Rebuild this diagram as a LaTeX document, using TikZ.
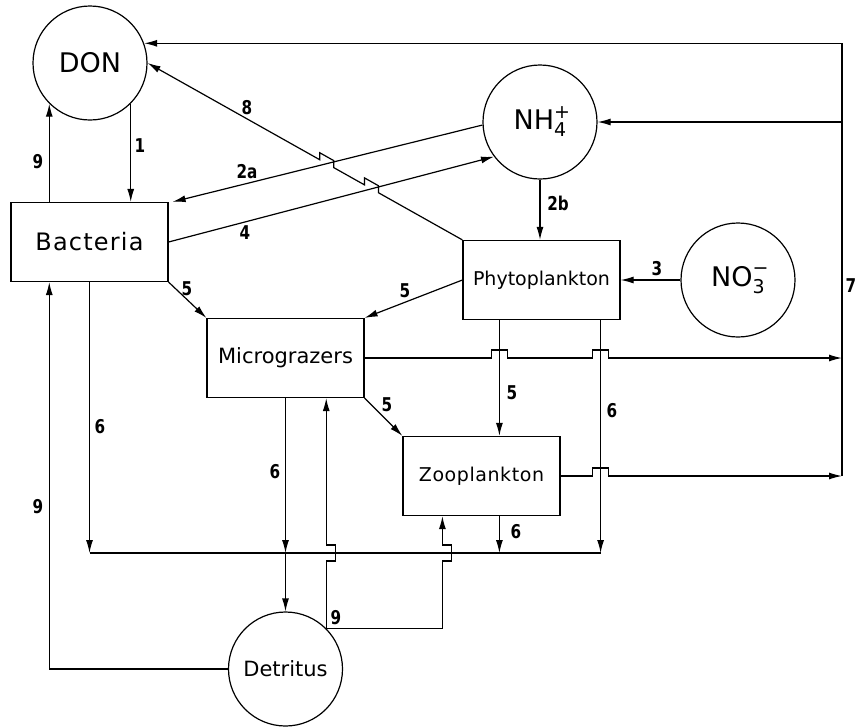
\documentclass[tikz,border=0pt]{standalone}
\usepackage{fontspec}
\setmainfont{DejaVu Sans}
\newfontfamily\numfont[FakeStretch=0.8]{DejaVu Sans}
\usetikzlibrary{calc,positioning,arrows.meta,intersections}
\tikzset{
  pool/.style={circle, draw=black, line width=1.2pt, minimum size=114pt,
               inner sep=0pt, font=\fontsize{27}{30}\selectfont},
  comp/.style={rectangle, draw=black, line width=1.2pt, minimum width=157pt,
               minimum height=79pt, inner sep=0pt},
  flux/.style={line width=1.2pt, -{Latex[length=13pt,width=7pt]}},
  fw/.style={line width=1.2pt},
  flab/.style={font=\numfont\bfseries\fontsize{19}{22}\selectfont}
}
\newcommand{\ionsz}{\fontsize{19}{19}\selectfont}
\begin{document}
\begin{tikzpicture}[x=1pt,y=-1pt]
  \useasboundingbox (0,0) rectangle (856,726);
  % pools and compartments
  \node[pool] (don) at (90,63) {DON};
  \node[pool] (nh4) at (540,122) {NH\rlap{\raisebox{11pt}{\ionsz +}}\raisebox{-7pt}{\ionsz 4}};
  \node[pool] (no3) at (738,280) {NO\rlap{\raisebox{12pt}{\ionsz −}}\raisebox{-7pt}{\ionsz 3}};
  \node[pool, font=\fontsize{21}{24}\selectfont] (det) at (285.5,669) {Detritus};
  \node[comp, font=\fontsize{24}{28}\selectfont\addfontfeature{LetterSpace=5}] (bact) at (89.5,242) {Bacteria};
  \node[comp, font=\fontsize{21}{24}\selectfont] (micro) at (285.5,358) {Micrograzers};
  \node[comp, font=\fontsize{19}{22}\selectfont] (phyto) at (541.5,280) {Phytoplankton};
  \node[comp, font=\fontsize{19}{22}\selectfont\addfontfeature{LetterSpace=3}] (zoo) at (481.5,476) {Zooplankton};
  % helper points
  \coordinate (c7x) at (842,0);
  \coordinate (c6) at (0,553);
  \coordinate (pa) at ($(phyto.south west)+(37,0)$);
  \coordinate (pb) at ($(phyto.south east)+(-20,0)$);
  \coordinate (zu) at ($(zoo.south west)+(40,0)$);
  \coordinate (c7t) at (don.20 -| c7x);
  \coordinate (c7b) at (zoo.east -| c7x);
  % DON and bacteria
  \draw[flux] (don.315) -- (don.315 |- bact.north);
  \draw[flux] (don.225 |- bact.north) -- (don.225);
  \draw[flux, name path=p2a] (nh4.183) -- ($(bact.north east)+(4,0)$);
  \draw[flux, name path=p4] (bact.east) -- (nh4.217);
  \path[name path=p8] (phyto.north west) -- (don.east);
  \path[name intersections={of=p8 and p2a, by=k1}];
  \path[name intersections={of=p8 and p4, by=k2}];
  \draw[flux] (phyto.north west) -- ($(k2)!8pt!(phyto.north west)$) -- ++(0,-7)
    -- ($(k2)!8pt!(don.east)+(0,-7)$) -- ($(k2)!8pt!(don.east)$)
    -- ($(k1)!8pt!(phyto.north west)$) -- ++(0,-7)
    -- ($(k1)!8pt!(don.east)+(0,-7)$) -- ($(k1)!8pt!(don.east)$) -- (don.east);
  % uptake
  \draw[flux] (nh4.south) -- (nh4.south |- phyto.north);
  \draw[flux] (no3.west) -- (phyto.east);
  % grazing
  \draw[flux] (bact.south east) -- (micro.north west);
  \draw[flux] (phyto.west) -- (micro.north east);
  \draw[flux] (micro.south east) -- (zoo.north west);
  \draw[flux] (pa) -- (pa |- zoo.north);
  % excretion, 7
  \draw[fw] (c7t) -- (c7b);
  \draw[flux] (c7t) -- (don.20);
  \draw[flux] (nh4.east -| c7x) -- (nh4.east);
  \draw[flux] (micro.east) -- ($(pa |- micro.east)+(-8,0)$) -- ++(0,-8) -- ++(16,0) -- ++(0,8)
    -- ($(pb |- micro.east)+(-8,0)$) -- ++(0,-8) -- ++(16,0) -- ++(0,8) -- (micro.east -| c7x);
  \draw[flux] (zoo.east) -- ($(pb |- zoo.east)+(-8,0)$) -- ++(0,-8) -- ++(16,0) -- ++(0,8)
    -- (c7b);
  % losses to detritus, 6
  \draw[fw] (bact.south |- c6) -- (pb |- c6);
  \draw[flux] (bact.south) -- (bact.south |- c6);
  \draw[flux] (pb) -- (pb |- c6);
  \draw[flux] (pa |- zoo.south) -- (pa |- c6);
  \draw[flux] (micro.south) -- (micro.south |- c6);
  \draw[flux] (micro.south |- c6) -- (det.north);
  % detritus, 9
  \draw[flux] (det.west) -| (don.225 |- bact.south);
  \draw[flux] (det.45) -- ($(det.45 |- c6)+(0,8)$) -- ++(9,0) -- ++(0,-16) -- ++(-9,0)
    -- (det.45 |- micro.south);
  \draw[flux] (det.45) -- (det.45 -| zu) -- ($(zu |- c6)+(0,8)$) -- ++(9,0) -- ++(0,-16)
    -- ++(-9,0) -- (zu);
  % flux numbers
  \node[flab] (n1) at (140,146) {1};
  \node[flab] (n9a) at (38,162) {9};
  \node[flab] (n2a) at (247,172) {2a};
  \node[flab] (n4) at (245,233) {4};
  \node[flab] (n8) at (247,108) {8};
  \node[flab] (n2b) at (558,203) {2b};
  \node[flab] (n3) at (657,269) {3};
  \node[flab] (n5a) at (187,289) {5};
  \node[flab] (n5b) at (405,291) {5};
  \node[flab] (n7) at (851,286) {7};
  \node[flab] (n5c) at (387,405) {5};
  \node[flab] (n5d) at (512,393) {5};
  \node[flab] (n6a) at (612,411) {6};
  \node[flab] (n6b) at (100,427) {6};
  \node[flab] (n6c) at (275,472) {6};
  \node[flab] (n9b) at (38,507) {9};
  \node[flab] (n6d) at (516,532) {6};
  \node[flab] (n9c) at (336,618) {9};
\end{tikzpicture}
\end{document}
